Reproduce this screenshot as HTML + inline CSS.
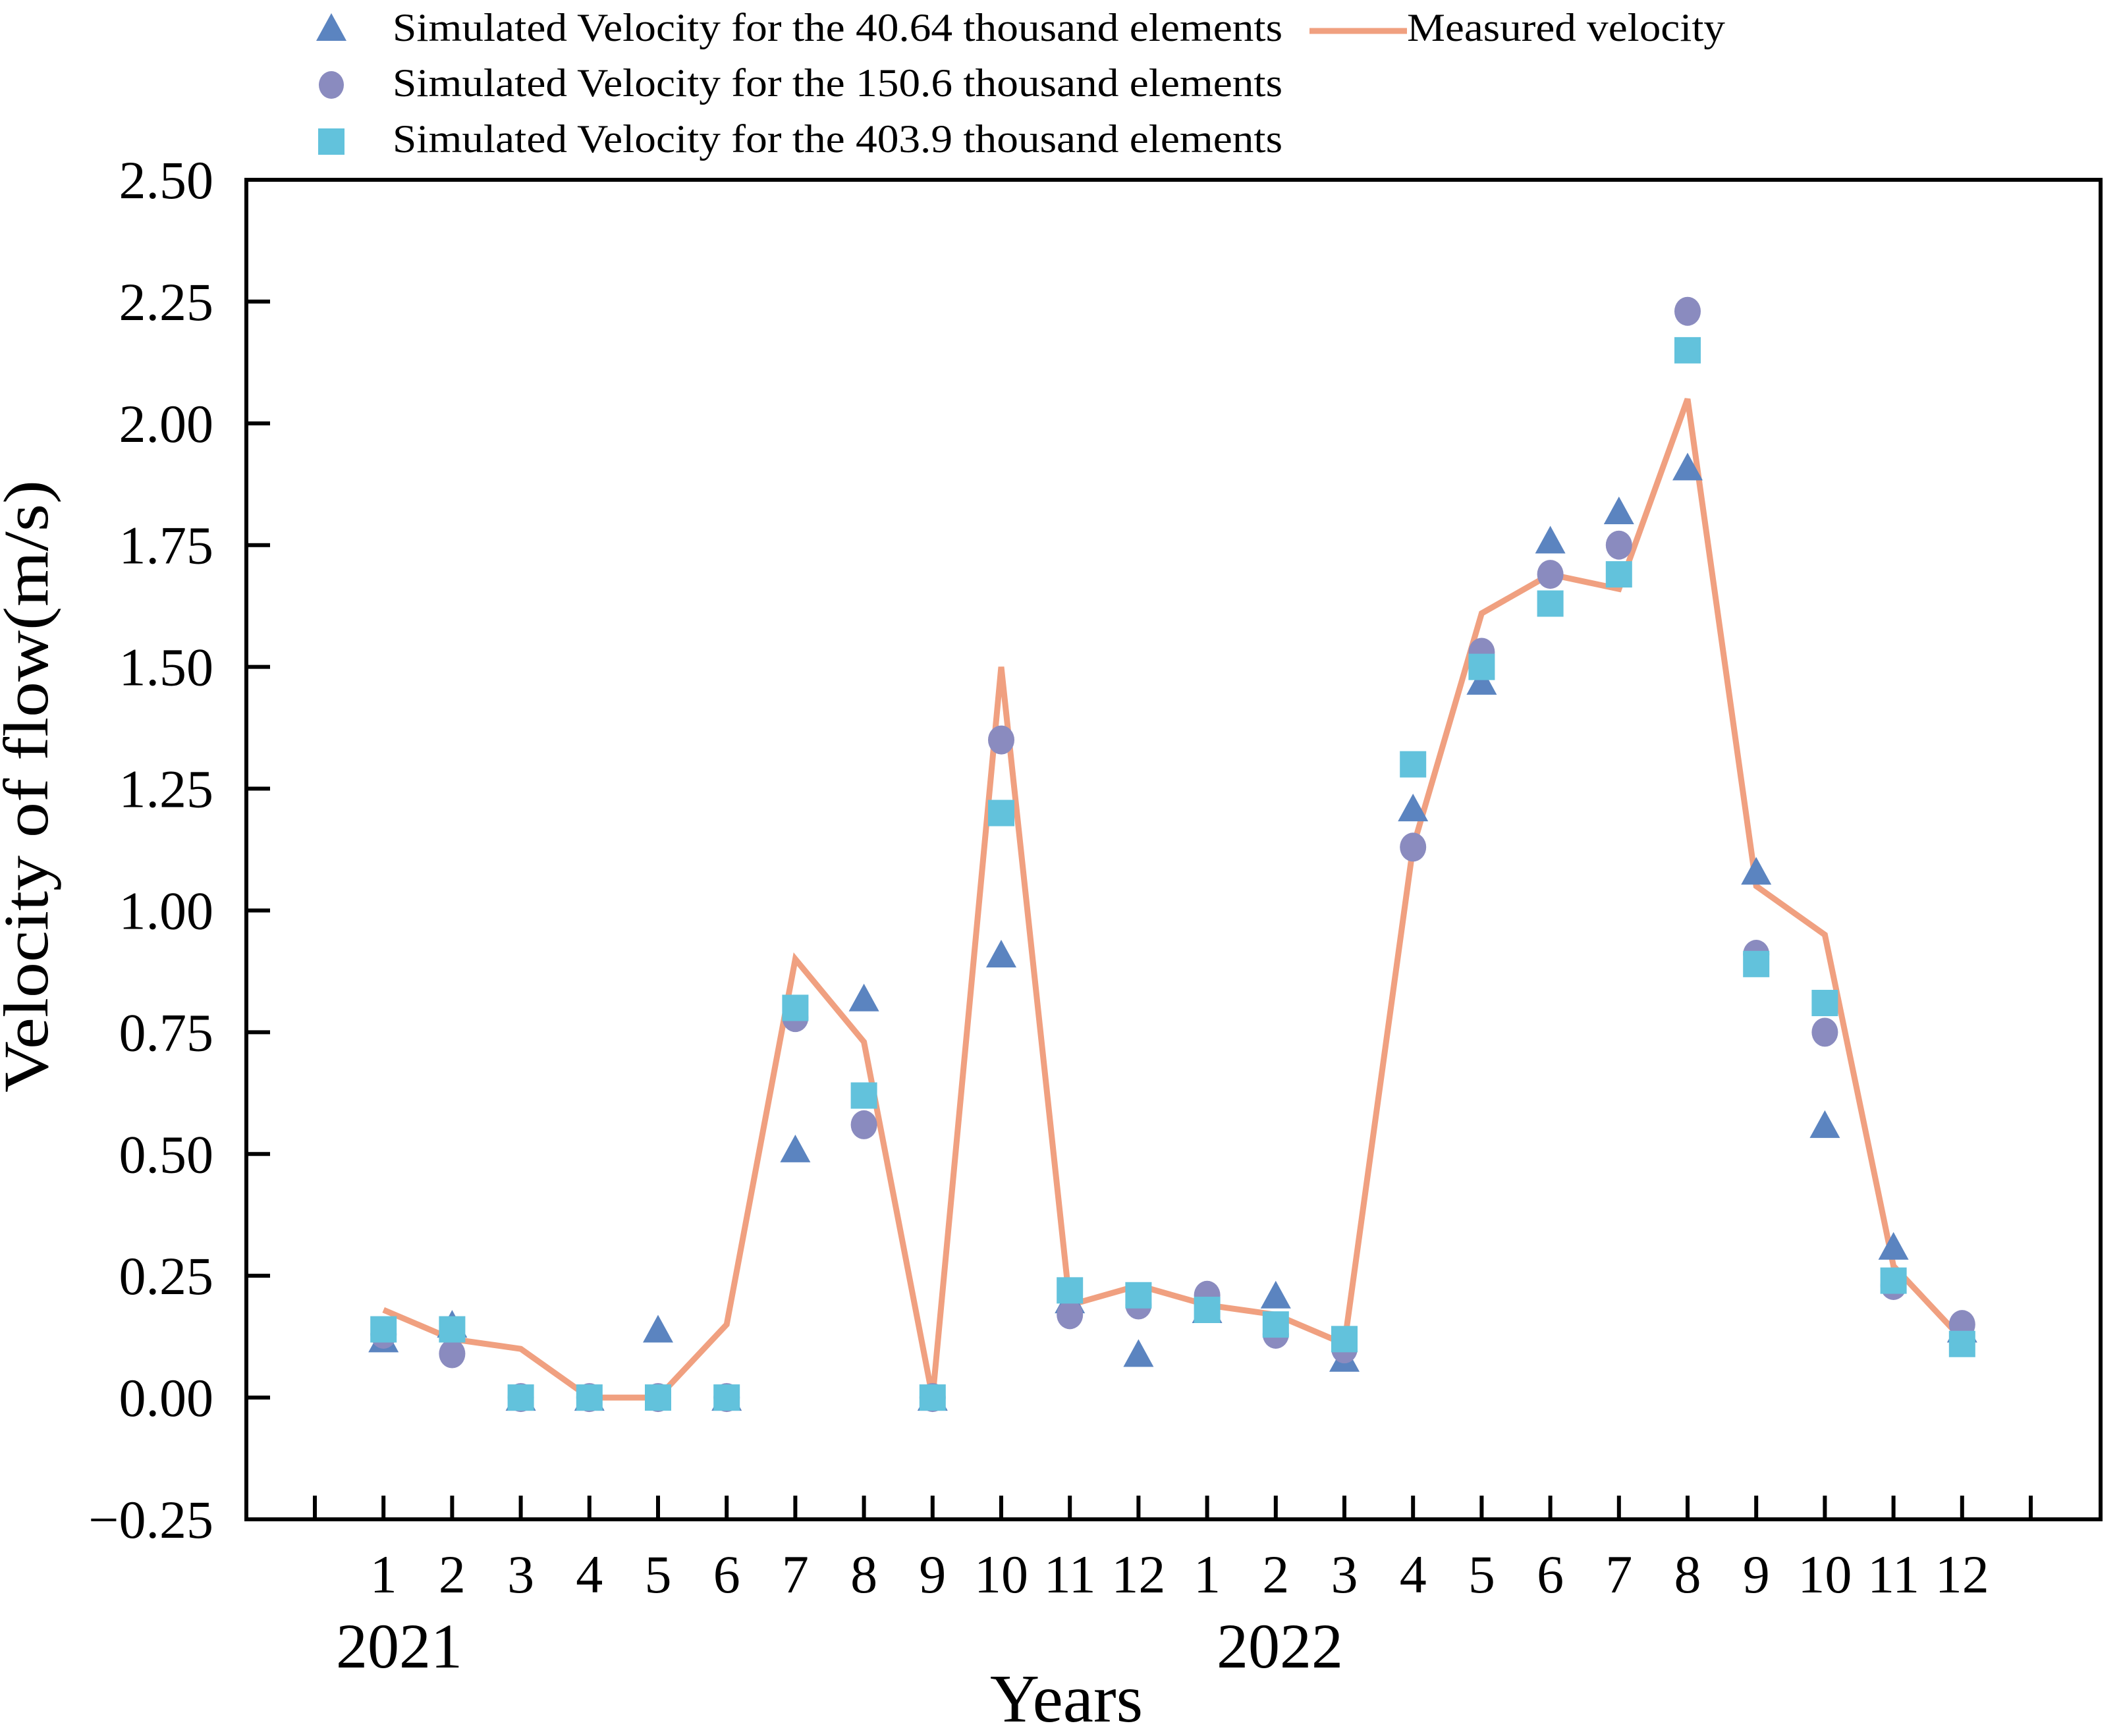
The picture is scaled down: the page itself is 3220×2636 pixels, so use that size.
<!DOCTYPE html>
<html><head><meta charset="utf-8"><style>
html,body{margin:0;padding:0;background:#fff}
svg{display:block}
text{font-family:"Liberation Serif",serif;fill:#000}
</style></head><body>
<svg id="chart" width="3220" height="2636" viewBox="0 0 3220 2636" xmlns="http://www.w3.org/2000/svg">
<g id="legend">
  <polygon points="503,20 480,62 526,62" fill="#5b84c0"/>
  <text x="596" y="62" font-size="60" textLength="1351" lengthAdjust="spacingAndGlyphs">Simulated Velocity for the 40.64 thousand elements</text>
  <ellipse cx="503" cy="129" rx="19" ry="21" fill="#8a8bbf"/>
  <text x="596" y="146" font-size="60" textLength="1351" lengthAdjust="spacingAndGlyphs">Simulated Velocity for the 150.6 thousand elements</text>
  <rect x="483" y="195" width="40" height="40" fill="#62c2dc"/>
  <text x="596" y="231" font-size="60" textLength="1351" lengthAdjust="spacingAndGlyphs">Simulated Velocity for the 403.9 thousand elements</text>
  <line x1="1988" y1="47" x2="2136" y2="47" stroke="#f0a080" stroke-width="9"/>
  <text x="2136" y="62" font-size="60" textLength="483" lengthAdjust="spacingAndGlyphs">Measured velocity</text>
</g>
<g id="axes"></g>
<g id="series"></g>
<text x="72" y="1194" font-size="96" text-anchor="middle" textLength="930" lengthAdjust="spacingAndGlyphs" transform="rotate(-90 72 1194)">Velocity of  flow(m/s)</text>
<text x="606" y="2532" font-size="96" text-anchor="middle">2021</text>
<text x="1943" y="2532" font-size="96" text-anchor="middle">2022</text>
<text x="1619" y="2614" font-size="104" text-anchor="middle">Years</text>
</svg>
<script>
const months = ["1","2","3","4","5","6","7","8","9","10","11","12","1","2","3","4","5","6","7","8","9","10","11","12"];
const measured = [0.18,0.12,0.10,0,0,0.15,0.90,0.73,0,1.50,0.19,0.23,0.19,0.17,0.11,1.13,1.61,1.69,1.66,2.05,1.05,0.95,0.27,0.12];
const sim40 = [0.12,0.15,0,0,0.14,0,0.51,0.82,0,0.91,0.20,0.09,0.18,0.21,0.08,1.21,1.47,1.76,1.82,1.91,1.08,0.56,0.31,0.14];
const sim150 = [0.13,0.09,0,0,0,0,0.78,0.56,0,1.35,0.17,0.19,0.21,0.13,0.10,1.13,1.53,1.69,1.75,2.23,0.91,0.75,0.23,0.15];
const sim403 = [0.14,0.14,0,0,0,0,0.80,0.62,0,1.20,0.22,0.21,0.18,0.15,0.12,1.30,1.50,1.63,1.69,2.15,0.89,0.81,0.24,0.11];
const yTicks = [-0.25,0,0.25,0.5,0.75,1,1.25,1.5,1.75,2,2.25,2.5];
const yTickLabels = ["\u22120.25","0.00","0.25","0.50","0.75","1.00","1.25","1.50","1.75","2.00","2.25","2.50"];

const NS="http://www.w3.org/2000/svg";
const L=374,R=3189,T=273,B=2307;
const yMin=-0.25,yMax=2.5;
const x0=478,dx=104.2;
function xs(i){return x0+(i+1)*dx;}
function ys(v){return B-(v-yMin)/(yMax-yMin)*(B-T);}
function mk(tag,attrs,parent){const e=document.createElementNS(NS,tag);for(const k in attrs)e.setAttribute(k,attrs[k]);parent.appendChild(e);return e;}
const axes=document.getElementById('axes');
const series=document.getElementById('series');

const frame=mk('rect',{x:L,y:T,width:R-L,height:B-T,fill:'none',stroke:'#000','stroke-width':6},axes);



yTicks.forEach((v,i)=>{
  const y=ys(v);
  const t=mk('line',{x1:L,y1:y,x2:L+36,y2:y,stroke:'#000','stroke-width':6},axes);
  
  
  const lb=mk('text',{x:324,y:y+28,'font-size':82,'text-anchor':'end'},axes);
  lb.textContent=yTickLabels[i];
  
  
});
for(let k=-1;k<=months.length;k++){
  const x=xs(k);
  const t=mk('line',{x1:x,y1:B,x2:x,y2:B-36,stroke:'#000','stroke-width':6},axes);
  
  
}
months.forEach((m,i)=>{
  const lb=mk('text',{x:xs(i),y:2418,'font-size':82,'text-anchor':'middle'},axes);
  lb.textContent=m;
  
  
});

const pl=mk('polyline',{points:measured.map((v,i)=>xs(i)+','+ys(v)).join(' '),fill:'none',stroke:'#f0a080','stroke-width':9,'stroke-linejoin':'miter'},series);



sim40.forEach((v,i)=>{
  const x=xs(i),y=ys(v);
  const p=mk('polygon',{points:`${x},${y-22} ${x-23},${y+20} ${x+23},${y+20}`,fill:'#5b84c0'},series);
  
  
});
sim150.forEach((v,i)=>{
  const c=mk('ellipse',{cx:xs(i),cy:ys(v),rx:20,ry:22,fill:'#8a8bbf'},series);
  
  
});
sim403.forEach((v,i)=>{
  const r=mk('rect',{x:xs(i)-20,y:ys(v)-20,width:40,height:40,fill:'#62c2dc'},series);
  
  
});
</script>
</body></html>
